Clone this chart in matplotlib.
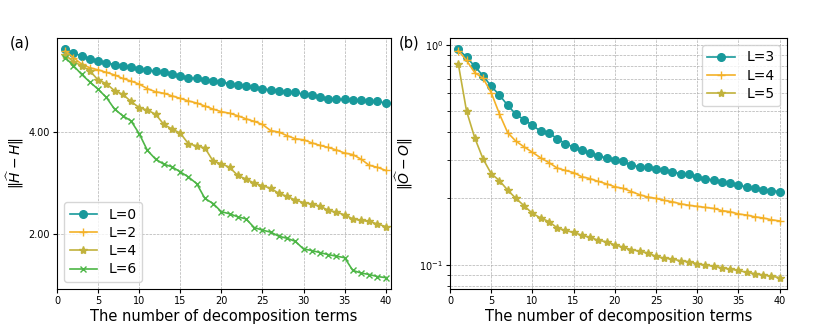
import numpy as np
import matplotlib
matplotlib.use("Agg")
import matplotlib.pyplot as plt
from matplotlib.ticker import FormatStrFormatter

# ---------------- data ----------------
terms = list(range(1, 41))

h_L0 = [5.61, 5.54, 5.48, 5.43, 5.39, 5.35, 5.31, 5.29, 5.26, 5.22,
        5.21, 5.18, 5.16, 5.13, 5.08, 5.05, 5.04, 5.01, 5.00, 4.97,
        4.94, 4.91, 4.90, 4.87, 4.83, 4.82, 4.80, 4.78, 4.77, 4.73,
        4.72, 4.68, 4.64, 4.63, 4.63, 4.61, 4.61, 4.60, 4.59, 4.56]
h_L2 = [5.58, 5.45, 5.32, 5.25, 5.21, 5.16, 5.11, 5.04, 4.99, 4.93,
        4.84, 4.78, 4.75, 4.70, 4.65, 4.60, 4.56, 4.50, 4.44, 4.39,
        4.36, 4.31, 4.25, 4.20, 4.14, 4.02, 3.99, 3.92, 3.86, 3.84,
        3.78, 3.73, 3.69, 3.64, 3.58, 3.55, 3.46, 3.34, 3.30, 3.24]
h_L4 = [5.50, 5.37, 5.29, 5.19, 5.01, 4.94, 4.80, 4.73, 4.59, 4.47,
        4.42, 4.34, 4.14, 4.05, 3.97, 3.76, 3.72, 3.68, 3.42, 3.37,
        3.30, 3.14, 3.07, 2.99, 2.94, 2.89, 2.79, 2.73, 2.66, 2.61,
        2.58, 2.54, 2.46, 2.42, 2.37, 2.29, 2.26, 2.24, 2.19, 2.14]
h_L6 = [5.45, 5.29, 5.12, 4.97, 4.83, 4.67, 4.44, 4.31, 4.21, 3.96,
        3.63, 3.46, 3.36, 3.31, 3.21, 3.11, 2.98, 2.69, 2.59, 2.43,
        2.39, 2.33, 2.29, 2.12, 2.07, 2.03, 1.95, 1.91, 1.85, 1.70,
        1.67, 1.63, 1.59, 1.56, 1.53, 1.28, 1.23, 1.20, 1.16, 1.14]

o_L3 = [0.952, 0.879, 0.797, 0.723, 0.647, 0.590, 0.530, 0.482, 0.456, 0.430,
        0.404, 0.397, 0.374, 0.355, 0.342, 0.331, 0.321, 0.312, 0.306, 0.300,
        0.295, 0.283, 0.279, 0.277, 0.273, 0.269, 0.264, 0.259, 0.257, 0.250,
        0.246, 0.242, 0.238, 0.235, 0.229, 0.226, 0.222, 0.219, 0.217, 0.215]
o_L4 = [0.939, 0.849, 0.746, 0.705, 0.605, 0.484, 0.398, 0.364, 0.343, 0.324,
        0.306, 0.291, 0.275, 0.268, 0.262, 0.251, 0.246, 0.239, 0.233, 0.226,
        0.222, 0.215, 0.208, 0.203, 0.200, 0.196, 0.193, 0.189, 0.186, 0.184,
        0.182, 0.180, 0.176, 0.174, 0.170, 0.168, 0.165, 0.163, 0.160, 0.158]
o_L5 = [0.820, 0.500, 0.377, 0.303, 0.259, 0.241, 0.218, 0.200, 0.185, 0.171,
        0.163, 0.157, 0.147, 0.143, 0.140, 0.136, 0.133, 0.129, 0.127, 0.123,
        0.120, 0.117, 0.115, 0.113, 0.109, 0.107, 0.106, 0.104, 0.103, 0.101,
        0.0994, 0.0984, 0.0967, 0.0954, 0.0941, 0.0922, 0.0910, 0.0897, 0.0885, 0.0873]

left_labels = ["L=0", "L=2", "L=4", "L=6"]
right_labels = ["L=3", "L=4", "L=5"]
xticks = [0, 5, 10, 15, 20, 25, 30, 35, 40]
left_yticks = [2.0, 4.0]

# ---------------- style ----------------
teal = "#18999b"
orange = "#f4b128"
olive = "#c1b23c"
green = "#4db646"

plt.rcParams['font.family'] = ['DejaVu Sans']

fig = plt.figure(figsize=(8.30, 3.26), dpi=100)
ax1 = fig.add_axes([0.0687, 0.1135, 0.4024, 0.770])
ax2 = fig.add_axes([0.5422, 0.1135, 0.4060, 0.770])

lw = 1.2
ax1.plot(terms, h_L0, color=teal, marker='o', ms=5.5, lw=lw, label=left_labels[0])
ax1.plot(terms, h_L2, color=orange, marker='+', ms=6, mew=1.0, lw=lw, label=left_labels[1])
ax1.plot(terms, h_L4, color=olive, marker='*', ms=6, lw=lw, label=left_labels[2])
ax1.plot(terms, h_L6, color=green, marker='x', ms=4.5, mew=1.0, lw=lw, label=left_labels[3])

ax1.set_xlim(0, 40.65)
ax1.set_xticks(xticks)
ax1.set_yticks(left_yticks)
ax1.yaxis.set_major_formatter(FormatStrFormatter('%.2f'))
ax1.grid(True, which='major', ls='--', lw=0.5, color='#b0b0b0')
ax1.set_xlabel("The number of decomposition terms", fontsize=10.5, labelpad=2)
ax1.set_ylabel(r"$\|\widehat{H}-H\|$", fontsize=10, labelpad=2)
ax1.tick_params(labelsize=7, length=3, pad=2)
ax1.legend(loc='lower left', fontsize=10, handlelength=2.0, borderpad=0.4,
           labelspacing=0.3, handletextpad=0.8)
fig.text(0.012, 0.855, "(a)", fontsize=10.5)

ax2.plot(terms, o_L3, color=teal, marker='o', ms=5.5, lw=lw, label=right_labels[0])
ax2.plot(terms, o_L4, color=orange, marker='+', ms=6, mew=1.0, lw=lw, label=right_labels[1])
ax2.plot(terms, o_L5, color=olive, marker='*', ms=6, lw=lw, label=right_labels[2])
ax2.set_yscale('log')
ax2.set_xlim(0, 40.9)
ax2.set_xticks(xticks)
ax2.grid(True, which='both', ls='--', lw=0.5, color='#b0b0b0')
ax2.set_xlabel("The number of decomposition terms", fontsize=10.5, labelpad=2)
ax2.set_ylabel(r"$\|\widehat{O}-O\|$", fontsize=10, labelpad=3)
ax2.tick_params(which='both', labelsize=7, pad=2)
ax2.tick_params(which='major', length=3)
ax2.tick_params(which='minor', length=2)
ax2.legend(loc='upper right', fontsize=10, handlelength=2.0, borderpad=0.4,
           labelspacing=0.3, handletextpad=0.8)
fig.text(0.481, 0.855, "(b)", fontsize=10.5)

fig.savefig("out.png", dpi=100)
